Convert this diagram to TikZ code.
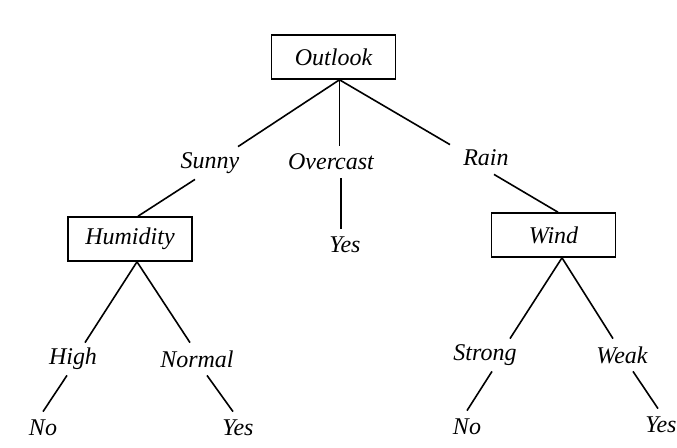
\documentclass[tikz,border=0pt]{standalone}
\usepackage{fontspec}
\setmainfont{Liberation Serif}
\usepackage{tikz}

\begin{document}
\begin{tikzpicture}[x=0.5pt,y=-0.5pt,
    attr/.style={draw,line width=0.8pt,minimum width=62pt,minimum height=22pt,inner sep=1pt,font=\itshape\fontsize{12}{14}\selectfont},
    val/.style={inner sep=1pt,minimum height=16pt,font=\itshape\fontsize{12}{14}\selectfont},
    edge/.style={line width=0.8pt}]
  \useasboundingbox (0,0) rectangle (677,447);
  % attribute boxes
  \node[attr] (outlook) at (333.5,57) {Outlook};
  \node[attr] (humidity) at (130,239) {Humidity};
  \node[attr] (wind) at (553.5,235) {Wind};
  % branch values
  \node[val] (sunny) at (210,163) {Sunny};
  \node[val] (overcast) at (331,162) {Overcast};
  \node[val] (rain) at (486,158) {Rain};
  \node[val] (high) at (73,359) {High};
  \node[val] (normal) at (197,359) {Normal};
  \node[val] (strong) at (485,355) {Strong};
  \node[val] (weak) at (622,355) {Weak};
  % leaves
  \node[val] (yes-o) at (345,245) {Yes};
  \node[val] (no-h) at (43,428) {No};
  \node[val] (yes-n) at (238,428) {Yes};
  \node[val] (no-s) at (467,427) {No};
  \node[val] (yes-w) at (661,425) {Yes};
  \coordinate (outlook-b) at ([xshift=3pt]outlook.south);
  \coordinate (humidity-b) at ([xshift=3.5pt]humidity.south);
  \coordinate (wind-b) at ([xshift=4.25pt]wind.south);
  % top level
  \draw[edge] (outlook-b) -- ([xshift=14pt]sunny.north);
  \draw[edge] (outlook-b) -- (outlook-b |- overcast.north);
  \draw[edge] (outlook-b) -- ([xshift=-18pt,yshift=-1.5pt]rain.north);
  \draw[edge] ([xshift=-7.5pt]sunny.south) -- ([xshift=4pt]humidity.north);
  \draw[edge] ([xshift=5pt]overcast.south) -- ([xshift=-2pt]yes-o.north);
  \draw[edge] ([xshift=4pt]rain.south) -- ([xshift=2.25pt]wind.north);
  % humidity subtree
  \draw[edge] (humidity-b) -- ([xshift=6pt]high.north);
  \draw[edge] (humidity-b) -- ([xshift=-3.5pt]normal.north);
  \draw[edge] ([xshift=-3pt]high.south) -- (no-h.north);
  \draw[edge] ([xshift=5pt]normal.south) -- ([xshift=-2.5pt]yes-n.north);
  % wind subtree
  \draw[edge] (wind-b) -- ([xshift=12.5pt]strong.north);
  \draw[edge] (wind-b) -- ([xshift=-4.5pt]weak.north);
  \draw[edge] ([xshift=3.5pt]strong.south) -- (no-s.north);
  \draw[edge] ([xshift=5.5pt]weak.south) -- ([xshift=-1.5pt]yes-w.north);
\end{tikzpicture}
\end{document}
